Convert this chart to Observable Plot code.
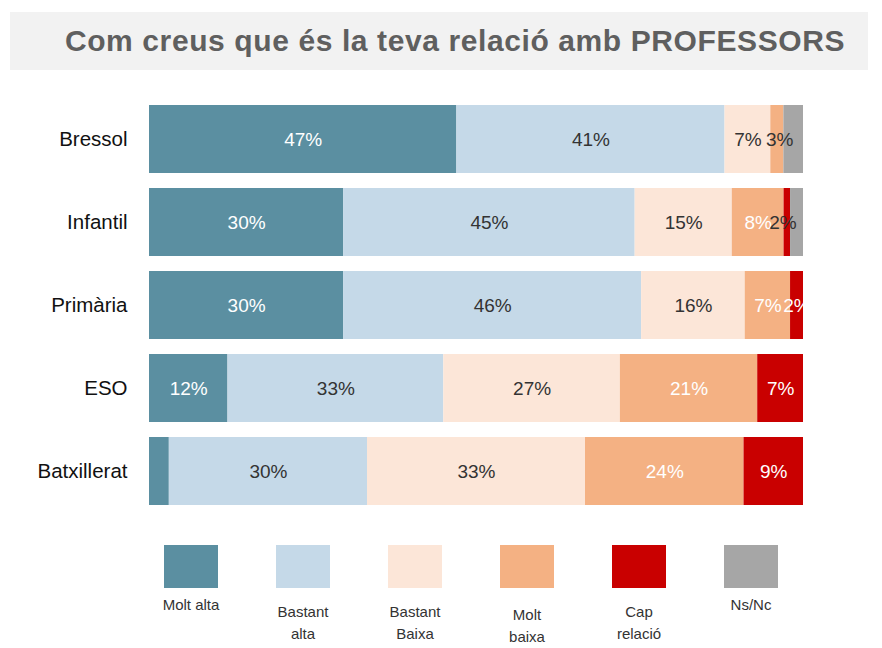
<!DOCTYPE html>
<html>
<head>
<meta charset="utf-8">
<script src="https://cdn.jsdelivr.net/npm/d3@7"></script>
<script src="https://cdn.jsdelivr.net/npm/@observablehq/plot@0.6"></script>
<style>
  html, body { margin: 0; padding: 0; background: #fff; }
  body { width: 882px; height: 648px; overflow: hidden; font-family: "Liberation Sans", Arial, sans-serif; }
  #title {
    margin: 12px 14px 0 10px; height: 58px; background: #f2f2f2;
    color: #5f5f5f; font-weight: bold; font-size: 30px; letter-spacing: 0.6px; line-height: 58px;
    text-align: center; padding-left: 32px; box-sizing: border-box; white-space: nowrap;
  }
  #legend { display: flex; margin-left: 135px; padding-top: 15px; }
  .item { width: 112px; text-align: center; }
  .sw { width: 54px; height: 43px; margin: 0 auto; }
  .lab { font-family: "Liberation Sans Narrow", "Liberation Sans", Arial, sans-serif; font-size: 15px; line-height: 22px; color: #333; }
  .item:nth-child(1) .lab { margin-top: 6px; }
  .item:nth-child(2) .lab, .item:nth-child(3) .lab, .item:nth-child(5) .lab { margin-top: 13px; }
  .item:nth-child(4) .lab { margin-top: 16px; }
  .item:nth-child(6) .lab { margin-top: 6px; }
</style>
</head>
<body>
<div id="title">Com creus que és la teva relació amb PROFESSORS</div>
<div id="chart"></div>
<div id="legend"></div>
<script>
const categories = ["Bressol", "Infantil", "Primària", "ESO", "Batxillerat"];
const series = ["Molt alta", "Bastant alta", "Bastant Baixa", "Molt baixa", "Cap relació", "Ns/Nc"];
const legendLabels = ["Molt  alta", "Bastant<br>alta", "Bastant<br>Baixa", "Molt<br>baixa", "Cap<br>relació", "Ns/Nc"];
const moltAlta     = [47, 30, 30, 12, 3];
const bastantAlta  = [41, 45, 46, 33, 30];
const bastantBaixa = [7, 15, 16, 27, 33];
const moltBaixa    = [2, 8, 7, 21, 24];
const capRelacio   = [0, 1, 2, 7, 9];
const nsNc         = [3, 2, 0, 0, 0];
const colors = ["#5b8fa1", "#c5d9e8", "#fce6d8", "#f4b183", "#c90000", "#a6a6a6"];
const hiddenLabels = [["Bressol", "Molt baixa"], ["Infantil", "Cap relació"], ["Batxillerat", "Molt alta"]];

const seriesValues = [moltAlta, bastantAlta, bastantBaixa, moltBaixa, capRelacio, nsNc];
const data = [];
categories.forEach((c, i) => {
  series.forEach((s, j) => data.push({cat: c, ser: s, value: seriesValues[j][i]}));
});
const isHidden = d => d.value <= 0 || hiddenLabels.some(([c, s]) => c === d.cat && s === d.ser);
const whiteGroup = ["Molt alta", "Molt baixa", "Cap relació"];
const darkGroup = ["Bastant alta", "Bastant Baixa"];
const lbl = group => d => (group.includes(d.ser) && !isHidden(d)) ? d.value + "%" : "";
const stackOpts = {x: "value", y: "cat", z: "ser", order: series, offset: "normalize"};

const chart = Plot.plot({
  width: 882,
  height: 460,
  marginLeft: 149,
  marginRight: 79,
  marginTop: 27.5,
  marginBottom: 17.5,
  style: {fontFamily: "Liberation Sans, Arial, sans-serif", fontSize: "20.5px", color: "#111", background: "transparent"},
  x: {axis: null, domain: [0, 1]},
  y: {domain: categories, paddingInner: 0.18, paddingOuter: 0.09, tickSize: 0, tickPadding: 22, label: null},
  color: {domain: series, range: colors},
  marks: [
    Plot.barX(data, Plot.stackX({...stackOpts, fill: "ser"})),
    Plot.text(data, Plot.stackX({...stackOpts, text: lbl(whiteGroup), fill: "white", fontSize: 19})),
    Plot.text(data, Plot.stackX({...stackOpts, text: lbl(darkGroup), fill: "#333", fontSize: 19})),
    Plot.text(data, Plot.stackX({...stackOpts, text: lbl(["Ns/Nc"]), fill: "#333", fontSize: 19, dx: -14}))
  ]
});
document.getElementById("chart").appendChild(chart);

const legend = document.getElementById("legend");
series.forEach((s, j) => {
  const it = document.createElement("div");
  it.className = "item";
  it.innerHTML = `<div class="sw" style="background:${colors[j]}"></div><div class="lab">${legendLabels[j]}</div>`;
  legend.appendChild(it);
});
</script>
</body>
</html>
